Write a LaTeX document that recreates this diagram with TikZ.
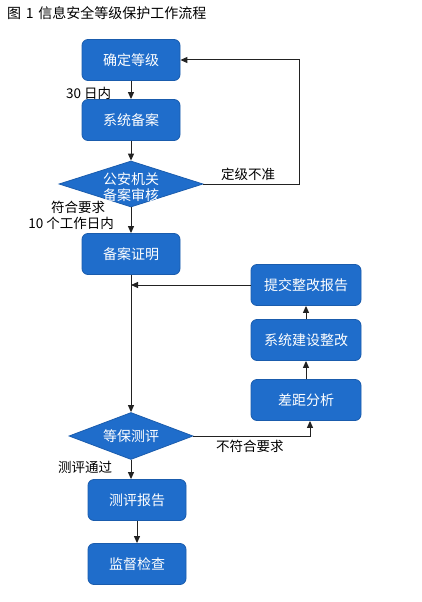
\documentclass[tikz,border=0pt]{standalone}
\usepackage{fontspec}
\setmainfont{Noto Sans CJK SC}
\usetikzlibrary{arrows.meta,shapes.geometric}
\definecolor{boxblue}{HTML}{1F6DCB}
\definecolor{boxedge}{HTML}{1A5CAD}
\definecolor{linegray}{HTML}{222222}
\tikzset{
  procbox/.style={draw=boxedge, line width=0.8pt, fill=boxblue, rounded corners=6pt,
    minimum width=98pt, minimum height=41pt, inner sep=0pt, text=white,
    font=\fontsize{14}{15}\selectfont},
  widebox/.style={procbox, minimum width=110pt},
  decide/.style={diamond, draw=boxedge, line width=0.8pt, fill=boxblue, inner sep=0pt,
    text=white, font=\fontsize{14}{15}\selectfont, align=center},
  conn/.style={draw=linegray, line width=1pt, -{Triangle[length=7pt,width=6pt]}},
  lbl/.style={font=\fontsize{13.5}{14}\selectfont, text=black, inner sep=0pt, align=center}
}
\begin{document}
\begin{tikzpicture}[x=1pt,y=-1pt]
\useasboundingbox (0,0) rectangle (421,602);
\fill[white] (0,0) rectangle (421,602);
\node[lbl, anchor=west, font=\fontsize{14}{15}\selectfont] (title) at (7,13) {图\,\,1\,\,信息安全等级保护工作流程};

\node[procbox] (dj) at (131,60) {确定等级};
\node[procbox] (ba) at (131,120) {系统备案};
\node[decide, minimum width=144pt, minimum height=46pt, aspect=3.1] (sh) at (131,184) {};
\node[lbl, text=white, font=\fontsize{14}{15.5}\selectfont] (shtext) at (131,187) {公安机关\\备案审核};
\node[procbox] (zm) at (131,254) {备案证明};
\node[widebox] (tj) at (306,285) {提交整改报告};
\node[widebox] (js) at (306,340) {系统建设整改};
\node[widebox] (cj) at (306,400) {差距分析};
\node[decide, minimum width=124pt, minimum height=47pt, aspect=2.6] (cp) at (131,436) {等保测评};
\node[procbox] (bg) at (137,500) {测评报告};
\node[procbox] (jd) at (137,564) {监督检查};

\coordinate (c1) at (299,184);
\coordinate (c2) at (299,60);
\coordinate (mid) at (131,285);

\draw[conn] (dj.south) -- (ba.north);
\draw[conn] (ba.south) -- (sh.north);
\draw[conn] (sh.south) -- (zm.north);
\draw[conn] (sh.east) -- (c1) -- (c2) -- (dj.east);
\draw[conn] (zm.south) -- (cp.north);
\draw[conn] (tj.west) -- (mid);
\draw[conn] (cj.north) -- (js.south);
\draw[conn] (js.north) -- (tj.south);
\draw[conn] (cp.east) -| ([xshift=4pt]cj.south);
\draw[conn] (cp.south) -- (cp.south |- bg.north);
\draw[conn] (bg.south) -- (jd.north);

\node[lbl, anchor=west] (l30) at (66,93) {30 日内};
\node[lbl, anchor=west] (lbz) at (221,174) {定级不准};
\node[lbl] (lfh) at (78,207) {符合要求};
\node[lbl, anchor=east] (l10) at (114,223) {10 个工作日内};
\node[lbl, anchor=west] (lbf) at (216,446) {不符合要求};
\node[lbl, anchor=west] (ltg) at (58,467) {测评通过};
\end{tikzpicture}
\end{document}
